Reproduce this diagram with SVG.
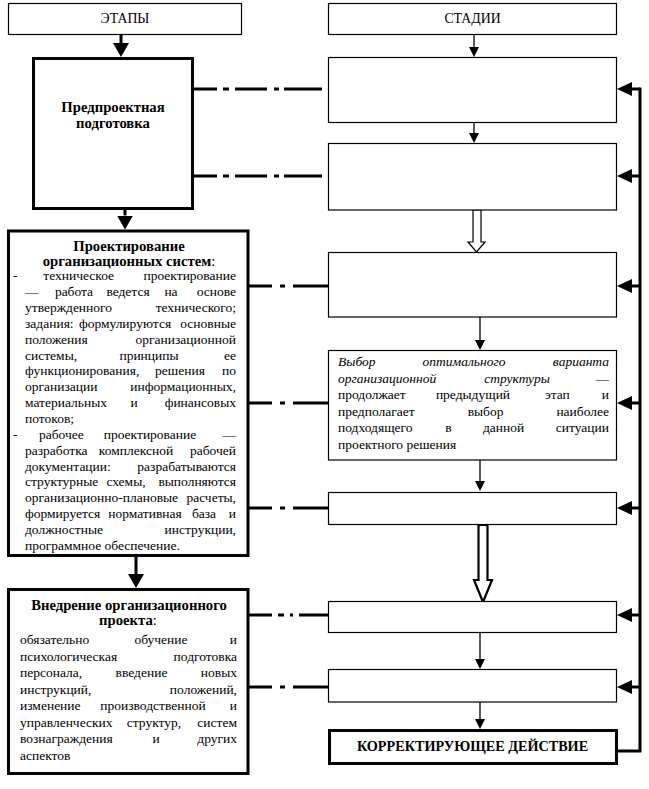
<svg xmlns="http://www.w3.org/2000/svg" width="649" height="789" viewBox="0 0 649 789" font-family="'Liberation Serif', 'DejaVu Serif', 'Noto Serif', serif">
<defs>
<style>
text { font-family: "Liberation Serif", "DejaVu Serif", serif; fill: #000; }
.b { font-size: 13.5px; }
.t { font-size: 14.7px; font-weight: bold; }
.h { font-size: 13.8px; }
.n { font-weight: normal; }
.i { font-style: italic; }
.m { text-anchor: middle; }
.e { text-anchor: end; }
.thin { fill: #fff; stroke: #000; stroke-width: 1.2; }
.thick { fill: #fff; stroke: #000; stroke-width: 3; }
.dd { fill: none; stroke: #000; stroke-width: 3; }
.ak { fill: none; stroke: #000; stroke-width: 3; }
.at { fill: none; stroke: #000; stroke-width: 1.3; }
.fb { fill: none; stroke: #000; stroke-width: 3; }
.hol { fill: #fff; stroke: #000; }
</style>
<marker id="mk" viewBox="0 0 14 16" markerWidth="14" markerHeight="16" refX="0" refY="8" orient="auto" markerUnits="userSpaceOnUse"><path d="M0,0 L14,8 L0,16 z" fill="#000"/></marker>
<marker id="mt" viewBox="0 0 10 10" markerWidth="10" markerHeight="10" refX="0" refY="5" orient="auto" markerUnits="userSpaceOnUse"><path d="M0,0 L10,5 L0,10 z" fill="#000"/></marker>
<marker id="mf" viewBox="0 0 15 14" markerWidth="15" markerHeight="14" refX="0" refY="7" orient="auto" markerUnits="userSpaceOnUse"><path d="M0,0 L15,7 L0,14 z" fill="#000"/></marker>
</defs>
<rect width="649" height="789" fill="#fff"/>

<g id="connectors">
  <path class="ak" d="M121,35 V43" marker-end="url(#mk)"/>
  <path class="ak" d="M125,210 V215.5" marker-end="url(#mk)"/>
  <path class="ak" d="M136,557 V574" marker-end="url(#mk)"/>
  <path class="at" d="M474,35 V47" marker-end="url(#mt)"/>
  <path class="at" d="M474,122 V133" marker-end="url(#mt)"/>
  <polygon class="hol" stroke-width="1.2" points="473,210 473,242 468,242 476.5,252 485,242 481,242 481,210"/>
  <path class="at" d="M480,317 V340" marker-end="url(#mt)"/>
  <path class="at" d="M480,460 V481" marker-end="url(#mt)"/>
  <polygon class="hol" stroke-width="2.2" points="478.5,525 478.5,580 474,580 483,602 492,580 487.5,580 487.5,525"/>
  <path class="at" d="M480,632 V659" marker-end="url(#mt)"/>
  <path class="at" d="M480,702 V719" marker-end="url(#mt)"/>
  <path class="fb" d="M617,751 H640 V87.5"/>
  <path class="fb" d="M640,89 H632" marker-end="url(#mf)"/>
  <path class="fb" d="M640,176 H632" marker-end="url(#mf)"/>
  <path class="fb" d="M640,286 H632" marker-end="url(#mf)"/>
  <path class="fb" d="M640,403 H632" marker-end="url(#mf)"/>
  <path class="fb" d="M640,508 H632" marker-end="url(#mf)"/>
  <path class="fb" d="M640,615 H632" marker-end="url(#mf)"/>
  <path class="fb" d="M640,687 H632" marker-end="url(#mf)"/>
  <path class="dd" d="M194,89 H217 M223,89 H229 M235,89 H267 M274,89 H279 M284,89 H322"/>
  <path class="dd" d="M194,176 H217 M223,176 H229 M235,176 H267 M274,176 H279 M284,176 H322"/>
  <path class="dd" d="M249,286 H272 M280,286 H285 M293,286 H328"/>
  <path class="dd" d="M249,403 H272 M280,403 H285 M293,403 H328"/>
  <path class="dd" d="M249,508 H272 M280,508 H285 M293,508 H328"/>
  <path class="dd" d="M249,615 H272 M278,615 H284 M290,615 H293 M299,615 H328"/>
  <path class="dd" d="M249,687 H272 M280,687 H285 M293,687 H328"/>
</g>

<g id="h-etapy">
  <rect class="thin" x="8.5" y="3.5" width="233" height="31"/>
  <text class="h m" x="125" y="22.7">ЭТАПЫ</text>
</g>
<g id="h-stadii">
  <rect class="thin" x="328.5" y="3.5" width="288" height="31"/>
  <text class="h m" x="472.5" y="22.7">СТАДИИ</text>
</g>

<g id="predproekt">
  <rect class="thick" x="33.5" y="58.5" width="159" height="150"/>
  <text class="t m" x="113" y="111.5">Предпроектная</text>
  <text class="t m" x="113" y="128">подготовка</text>
</g>

<g id="proekt">
  <rect class="thick" x="8.5" y="231" width="239.5" height="324.5"/>
  <text class="t m" x="129" y="250.5">Проектирование</text>
  <text class="t m" x="129" y="265.5">организационных систем<tspan class="n">:</tspan></text>
  <text class="b" y="280.3"><tspan x="13">-</tspan><tspan x="43.3">техническое</tspan><tspan x="236" class="e">проектирование</tspan></text>
  <text class="b" y="296.2"><tspan x="25">—</tspan><tspan x="74" class="m">работа</tspan><tspan x="128" class="m">ведется</tspan><tspan x="171" class="m">на</tspan><tspan x="236" class="e">основе</tspan></text>
  <text class="b" y="312"><tspan x="25">утвержденного</tspan><tspan x="236" class="e">технического;</tspan></text>
  <text class="b" y="327.9"><tspan x="25">задания:</tspan><tspan x="125" class="m">формулируются</tspan><tspan x="236" class="e">основные</tspan></text>
  <text class="b" y="343.7"><tspan x="25">положения</tspan><tspan x="236" class="e">организационной</tspan></text>
  <text class="b" y="359.6"><tspan x="25">системы,</tspan><tspan x="149" class="m">принципы</tspan><tspan x="236" class="e">ее</tspan></text>
  <text class="b" y="375.4"><tspan x="25">функционирования,</tspan><tspan x="180" class="m">решения</tspan><tspan x="236" class="e">по</tspan></text>
  <text class="b" y="391.3"><tspan x="25">организации</tspan><tspan x="236" class="e">информационных,</tspan></text>
  <text class="b" y="407.1"><tspan x="25">материальных</tspan><tspan x="134" class="m">и</tspan><tspan x="236" class="e">финансовых</tspan></text>
  <text class="b" y="423"><tspan x="25">потоков;</tspan></text>
  <text class="b" y="438.8"><tspan x="13">-</tspan><tspan x="39">рабочее</tspan><tspan x="150" class="m">проектирование</tspan><tspan x="236" class="e">—</tspan></text>
  <text class="b" y="454.7"><tspan x="25">разработка</tspan><tspan x="136" class="m">комплексной</tspan><tspan x="236" class="e">рабочей</tspan></text>
  <text class="b" y="470.5"><tspan x="25">документации:</tspan><tspan x="236" class="e">разрабатываются</tspan></text>
  <text class="b" y="486.4"><tspan x="25">структурные</tspan><tspan x="126" class="m">схемы,</tspan><tspan x="236" class="e">выполняются</tspan></text>
  <text class="b" y="502.2"><tspan x="25">организационно-плановые</tspan><tspan x="236" class="e">расчеты,</tspan></text>
  <text class="b" y="518.1"><tspan x="25">формируется</tspan><tspan x="145" class="m">нормативная</tspan><tspan x="204" class="m">база</tspan><tspan x="236" class="e">и</tspan></text>
  <text class="b" y="533.9"><tspan x="25">должностные</tspan><tspan x="236" class="e">инструкции,</tspan></text>
  <text class="b" y="549.8"><tspan x="25">программное обеспечение.</tspan></text>
</g>

<g id="vnedrenie">
  <rect class="thick" x="8.5" y="589.5" width="239.5" height="184"/>
  <text class="t m" x="129" y="609.7">Внедрение организационного</text>
  <text class="t m" x="128" y="625.3">проекта<tspan class="n">:</tspan></text>
  <text class="b" y="644"><tspan x="20">обязательно</tspan><tspan x="161" class="m">обучение</tspan><tspan x="237" class="e">и</tspan></text>
  <text class="b" y="660.5"><tspan x="20">психологическая</tspan><tspan x="237" class="e">подготовка</tspan></text>
  <text class="b" y="677"><tspan x="20">персонала,</tspan><tspan x="141.5" class="m">введение</tspan><tspan x="237" class="e">новых</tspan></text>
  <text class="b" y="693.5"><tspan x="20">инструкций,</tspan><tspan x="237" class="e">положений,</tspan></text>
  <text class="b" y="710"><tspan x="20">изменение</tspan><tspan x="153" class="m">производственной</tspan><tspan x="237" class="e">и</tspan></text>
  <text class="b" y="726.5"><tspan x="20">управленческих</tspan><tspan x="154" class="m">структур,</tspan><tspan x="237" class="e">систем</tspan></text>
  <text class="b" y="743"><tspan x="20">вознаграждения</tspan><tspan x="156" class="m">и</tspan><tspan x="237" class="e">других</tspan></text>
  <text class="b" y="759.5"><tspan x="20">аспектов</tspan></text>
</g>

<g id="stage1"><rect class="thin" x="328.5" y="57.5" width="288" height="65"/></g>
<g id="stage2"><rect class="thin" x="328.5" y="143.5" width="288" height="66.5"/></g>
<g id="stage3"><rect class="thin" x="328.5" y="252.5" width="288" height="64.5"/></g>
<g id="stage4">
  <rect class="thin" x="328.5" y="350.5" width="288" height="109.5"/>
  <text class="b i" y="366.3"><tspan x="338">Выбор</tspan><tspan x="464" class="m">оптимального</tspan><tspan x="609" class="e">варианта</tspan></text>
  <text class="b" y="382.8"><tspan x="338" class="i">организационной</tspan><tspan x="517" class="m i">структуры</tspan><tspan x="609" class="e">—</tspan></text>
  <text class="b" y="399.3"><tspan x="338">продолжает</tspan><tspan x="473" class="m">предыдущий</tspan><tspan x="557.4" class="m">этап</tspan><tspan x="609" class="e">и</tspan></text>
  <text class="b" y="415.8"><tspan x="338">предполагает</tspan><tspan x="485.6" class="m">выбор</tspan><tspan x="609" class="e">наиболее</tspan></text>
  <text class="b" y="432.3"><tspan x="338">подходящего</tspan><tspan x="448.5" class="m">в</tspan><tspan x="503.6" class="m">данной</tspan><tspan x="609" class="e">ситуации</tspan></text>
  <text class="b" y="448.8"><tspan x="338">проектного решения</tspan></text>
</g>
<g id="stage5"><rect class="thin" x="328.5" y="492.5" width="288" height="32"/></g>
<g id="stage6"><rect class="thin" x="328.5" y="601.5" width="288" height="31"/></g>
<g id="stage7"><rect class="thin" x="328.5" y="669.5" width="288" height="32.5"/></g>
<g id="corrective">
  <rect class="thick" x="329.5" y="730.5" width="287" height="33"/>
  <text class="t m" x="472.5" y="750.7" style="font-size:14.2px">КОРРЕКТИРУЮЩЕЕ ДЕЙСТВИЕ</text>
</g>
</svg>
